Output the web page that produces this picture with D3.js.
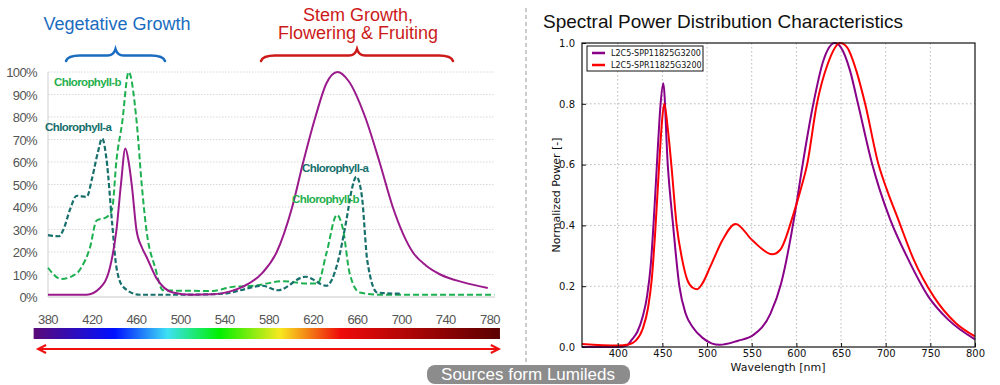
<!DOCTYPE html>
<html><head><meta charset="utf-8">
<script src="https://cdn.jsdelivr.net/npm/d3@7"></script>
<style>body{margin:0;background:#fff}svg{display:block}</style>
</head><body>
<svg id="c" width="1000" height="385"></svg>
<script>
// ---------- Left chart data (wavelength nm, percent) ----------
const leftXTicks = [380,420,460,500,540,580,620,660,700,740,780];
const leftYTicks = [0,10,20,30,40,50,60,70,80,90,100];
const ledLambda = [380,415,427,436,442,446,450,453,456,460,465,469,478,493,510,530,545,556,574,587,601,611,622,632,642,652,667,680,692,710,722,735,756,778];
const ledValue  = [1,1,4,13,30,50,66,60,49,30,22,18,8.5,2,1,1.2,2.5,4.5,10.7,20,40,60,80,95,100,96,80,60,40,20,14,10,6.5,4];
const chlALambda = [380,390,394,400,406,415,420,425,429,433,438,442,448,463,500,540,554,574,588,613,632,642,650,655,659,664,669,678,698,700];
const chlAValue  = [27.5,27,30,39,45,44.5,53,64,70.5,61,33,13,4.5,1,1,1.5,3,5,3,9,5,15,34,48,53.5,45,16,2,1.5,1.5];
const chlBLambda = [380,392,406,410,418,424,433,438,442,447,453,460,465,469,477,484,500,529,547,566,593,614,624,632,641.5,647,653,662,680,784];
const chlBValue  = [13,8,10.5,13,22,34,35.5,39,61,77,100,79,49,30,13,3,2.8,2.7,4.5,5,7,6,6,19.5,36.5,30,10.5,2,1,1];
// colour bar stops (wavelength, colour)
const barLambda = [367,440,488,535,590,645,789];
const barColor  = ["#5b0a78","#0010ff","#3ee0f4","#00f000","#f8e820","#ee0a0a","#5a0000"];

// ---------- Right chart data (wavelength nm, normalized) ----------
const rightXTicks = [400,450,500,550,600,650,700,750,800];
const rightYTicks = [0.0,0.2,0.4,0.6,0.8,1.0];
const sppLambda = [360,400,410,416,422,428,433,437,441,445,448,451,456,462,469,476,484,495,505,514,534,552,571,583,599,607,619,630,643,650,660,669,685,693,705,725,748,770,800];
const sppValue  = [0,0,0.005,0.025,0.05,0.1,0.17,0.27,0.45,0.66,0.8,0.868,0.6,0.4,0.2,0.11,0.065,0.03,0.012,0.007,0.02,0.04,0.11,0.21,0.45,0.6,0.8,0.94,1.0,0.985,0.91,0.8,0.6,0.52,0.42,0.29,0.165,0.09,0.025];
const sprLambda = [360,400,412,420,428,434,438,442,446,449,452,456,460,466,472,478,484,489,495,503,509,517,532,551,573,582,597,605,612,623,635,649,657,667,677,692,701,714,731,754,778,800];
const sprValue  = [0.01,0.005,0.008,0.02,0.06,0.13,0.22,0.38,0.58,0.72,0.80,0.72,0.6,0.4,0.29,0.22,0.195,0.19,0.21,0.26,0.3,0.35,0.405,0.35,0.305,0.32,0.44,0.52,0.6,0.8,0.93,1.0,0.985,0.91,0.8,0.6,0.52,0.42,0.29,0.165,0.08,0.035];
const legendNames = ["L2C5-SPP11825G3200","L2C5-SPR11825G3200"];

const svg = d3.select("#c");

// ================= LEFT CHART =================
const lx = d3.scaleLinear().domain([380,780]).range([48,490]);
const ly = d3.scaleLinear().domain([0,100]).range([297,72]);
const L = svg.append("g");

// grid
L.selectAll("line.g").data(leftYTicks.filter(d=>d>0)).join("line")
  .attr("x1",48).attr("x2",495).attr("y1",d=>ly(d)).attr("y2",d=>ly(d))
  .attr("stroke","#d8d8d8").attr("stroke-width",1).attr("stroke-dasharray","1.5,1.5");
L.append("line").attr("x1",48).attr("x2",495).attr("y1",ly(0)).attr("y2",ly(0)).attr("stroke","#c8c8c8");
L.append("line").attr("x1",48).attr("x2",48).attr("y1",ly(0)).attr("y2",ly(100)).attr("stroke","#d0d0d0");

// y labels
L.selectAll("text.yl").data(leftYTicks).join("text")
  .attr("x",37).attr("y",d=>ly(d)+5).attr("text-anchor","end")
  .attr("font-family","Liberation Sans, Arial, sans-serif").attr("font-size",13).attr("letter-spacing","-0.6")
  .attr("fill","#555").text(d=>d+"%");
// x labels
L.selectAll("text.xl").data(leftXTicks).join("text")
  .attr("x",d=>lx(d)).attr("y",324).attr("text-anchor","middle")
  .attr("font-family","Liberation Sans, Arial, sans-serif").attr("font-size",13).attr("letter-spacing","-0.6")
  .attr("fill","#555").text(d=>d);

// colour bar
const defs = svg.append("defs");
const grad = defs.append("linearGradient").attr("id","spec").attr("x1","0%").attr("x2","100%");
const b0 = lx(barLambda[0]), b1 = lx(barLambda[barLambda.length-1]);
barLambda.forEach((l,i)=>grad.append("stop").attr("offset",((lx(l)-b0)/(b1-b0)*100)+"%").attr("stop-color",barColor[i]));
L.append("rect").attr("x",b0).attr("y",328).attr("width",b1-b0).attr("height",11).attr("fill","url(#spec)");

// red double arrow
const ay = 349;
L.append("line").attr("x1",lx(371)).attr("x2",lx(788)).attr("y1",ay).attr("y2",ay).attr("stroke","#f01010").attr("stroke-width",2);
L.append("path").attr("d",`M${lx(371)+8},${ay-4} L${lx(371)},${ay} L${lx(371)+8},${ay+4}`).attr("fill","none").attr("stroke","#f01010").attr("stroke-width",2);
L.append("path").attr("d",`M${lx(788)-8},${ay-4} L${lx(788)},${ay} L${lx(788)-8},${ay+4}`).attr("fill","none").attr("stroke","#f01010").attr("stroke-width",2);

// curves
const lline = (X,Y)=>d3.line().x((d,i)=>lx(X[i])).y((d,i)=>ly(Y[i])).curve(d3.curveMonotoneX)(X);
L.append("path").attr("d",lline(chlBLambda,chlBValue)).attr("fill","none").attr("stroke","#1db050").attr("stroke-width",2).attr("stroke-dasharray","6,3");
L.append("path").attr("d",lline(chlALambda,chlAValue)).attr("fill","none").attr("stroke","#17706c").attr("stroke-width",2.2).attr("stroke-dasharray","5,2.5");
L.append("path").attr("d",lline(ledLambda,ledValue)).attr("fill","none").attr("stroke","#9a1a8c").attr("stroke-width",2);

// curve labels
const lab = (x,y,t,c)=>L.append("text").attr("x",x).attr("y",y).attr("font-family","Liberation Sans, Arial, sans-serif")
  .attr("font-weight","bold").attr("font-size",11.5).attr("letter-spacing","-0.6").attr("fill",c).text(t);
lab(54,86,"Chlorophyll-b","#1fb04d");
lab(45,131,"Chlorophyll-a","#16706c");
lab(302,172,"Chlorophyll-a","#16706c");
lab(292,203,"Chlorophyll-b","#1fb04d");

// headings
svg.append("text").attr("x",117).attr("y",30).attr("text-anchor","middle").attr("font-family","Liberation Sans, Arial, sans-serif")
  .attr("font-size",18).attr("fill","#1a6cc0").text("Vegetative Growth");
svg.append("text").attr("x",358).attr("y",21).attr("text-anchor","middle").attr("font-family","Liberation Sans, Arial, sans-serif")
  .attr("font-size",18).attr("fill","#cc1a1a").text("Stem Growth,");
svg.append("text").attr("x",358).attr("y",39).attr("text-anchor","middle").attr("font-family","Liberation Sans, Arial, sans-serif")
  .attr("font-size",18).attr("fill","#cc1a1a").text("Flowering & Fruiting");

// braces
function brace(x0,x1,yTop,yBot,col){
  const m=(x0+x1)/2, h=yBot-yTop;
  const d=`M${x0},${yBot} Q${x0+2},${yTop+h*0.55} ${x0+14},${yTop+h*0.55} L${m-8},${yTop+h*0.55} Q${m-2},${yTop+h*0.55} ${m},${yTop}
           Q${m+2},${yTop+h*0.55} ${m+8},${yTop+h*0.55} L${x1-14},${yTop+h*0.55} Q${x1-2},${yTop+h*0.55} ${x1},${yBot}`;
  svg.append("path").attr("d",d).attr("fill","none").attr("stroke",col).attr("stroke-width",2.5).attr("stroke-linecap","round");
}
brace(66,165,49,61,"#1a6cc0");
brace(261,453,49,61,"#cc1a1a");

// divider
svg.append("line").attr("x1",526).attr("x2",526).attr("y1",8).attr("y2",365).attr("stroke","#999").attr("stroke-width",1).attr("stroke-dasharray","4,3");

// source label
svg.append("rect").attr("x",427).attr("y",365).attr("width",203).attr("height",19).attr("rx",8).attr("fill","#8c8c8c");
svg.append("text").attr("x",528).attr("y",380).attr("text-anchor","middle").attr("font-family","Liberation Sans, Arial, sans-serif")
  .attr("font-size",17).attr("fill","#fff").text("Sources form Lumileds");

// ================= RIGHT CHART =================
const rx = d3.scaleLinear().domain([360,800]).range([582,975]);
const ry = d3.scaleLinear().domain([0,1]).range([347,43]);
const R = svg.append("g");

svg.append("text").attr("x",543).attr("y",28).attr("font-family","Liberation Sans, Arial, sans-serif")
  .attr("font-size",19).attr("fill","#111").text("Spectral Power Distribution Characteristics");

// grid
R.selectAll("line.gx").data(rightXTicks.slice(0,-1)).join("line")
  .attr("x1",d=>rx(d)).attr("x2",d=>rx(d)).attr("y1",43).attr("y2",347)
  .attr("stroke","#b8b8b8").attr("stroke-dasharray","1.5,2.5");
R.selectAll("line.gy").data(rightYTicks.slice(1,-1)).join("line")
  .attr("x1",582).attr("x2",975).attr("y1",d=>ry(d)).attr("y2",d=>ry(d))
  .attr("stroke","#b8b8b8").attr("stroke-dasharray","1.5,2.5");

// curves
const rline = (X,Y)=>d3.line().x((d,i)=>rx(X[i])).y((d,i)=>ry(Y[i])).curve(d3.curveMonotoneX)(X);
R.append("path").attr("d",rline(sppLambda,sppValue)).attr("fill","none").attr("stroke","#880088").attr("stroke-width",2);
R.append("path").attr("d",rline(sprLambda,sprValue)).attr("fill","none").attr("stroke","#ff0000").attr("stroke-width",2);

// axes via d3
const xa = d3.axisBottom(rx).tickValues(rightXTicks).tickSize(-4).tickPadding(3).tickFormat(d3.format("d"));
const ya = d3.axisLeft(ry).tickValues(rightYTicks).tickSize(-4).tickPadding(7).tickFormat(d3.format(".1f"));
const gx = R.append("g").attr("transform","translate(0,347)").call(xa);
const gy = R.append("g").attr("transform","translate(582,0)").call(ya);
[gx,gy].forEach(g=>{
  g.select(".domain").remove();
  g.selectAll("text").attr("font-family","DejaVu Sans, sans-serif").attr("font-size",10).attr("fill","#111");
  g.selectAll("line").attr("stroke","#111");
});
R.append("rect").attr("x",582).attr("y",43).attr("width",393).attr("height",304).attr("fill","none").attr("stroke","#111").attr("stroke-width",1.2);

R.append("text").attr("x",778).attr("y",371).attr("text-anchor","middle").attr("font-family","DejaVu Sans, sans-serif")
  .attr("font-size",11).attr("fill","#111").text("Wavelength [nm]");
R.append("text").attr("transform","translate(560,195) rotate(-90)").attr("text-anchor","middle").attr("font-family","DejaVu Sans, sans-serif")
  .attr("font-size",11).attr("fill","#111").text("Normalized Power [-]");

// legend
const lg = R.append("g");
lg.append("rect").attr("x",587).attr("y",46).attr("width",116).attr("height",25).attr("fill","#fff").attr("stroke","#111").attr("stroke-width",1);
const legCols = ["#880088","#ff0000"];
legendNames.forEach((n,i)=>{
  lg.append("line").attr("x1",592).attr("x2",605).attr("y1",53+i*12).attr("y2",53+i*12).attr("stroke",legCols[i]).attr("stroke-width",2.5);
  lg.append("text").attr("x",611).attr("y",56+i*12).attr("font-family","DejaVu Sans, sans-serif").attr("font-size",8).attr("fill","#111").text(n);
});
</script>
</body></html>
